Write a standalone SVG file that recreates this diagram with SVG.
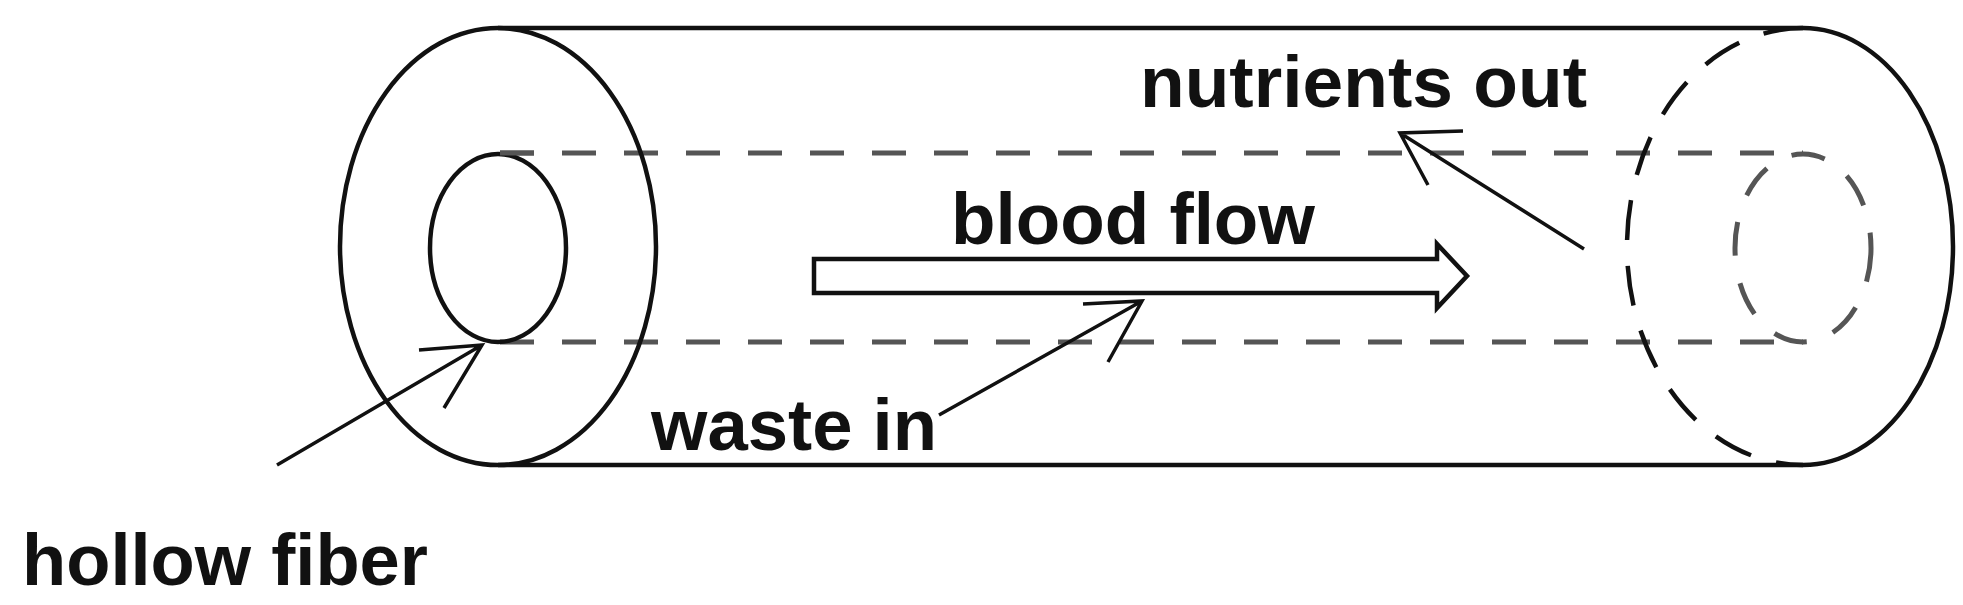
<svg xmlns="http://www.w3.org/2000/svg" width="1963" height="605" viewBox="0 0 1963 605">
<style>
.s{fill:none;stroke:#111;stroke-width:4.5}
.d{fill:none;stroke:#555;stroke-width:5;stroke-dasharray:34 28}
.k{fill:none;stroke:#111;stroke-width:4.5;stroke-dasharray:40 26}
.a{fill:none;stroke:#111;stroke-width:3.5}
text{font-family:"Liberation Sans",Arial,sans-serif;font-weight:bold;font-size:72px;fill:#111}
</style>
<rect width="1963" height="605" fill="#fff"/>
<g id="tube">
<line class="s" x1="498" y1="28" x2="1803" y2="28"/>
<line class="s" x1="498" y1="465" x2="1803" y2="465"/>
<line class="d" x1="500" y1="153" x2="1803" y2="153"/>
<line class="d" x1="500" y1="342" x2="1803" y2="342"/>
</g>
<g id="left-end">
<ellipse class="s" cx="498" cy="246.5" rx="158" ry="218.5" fill="#fff"/>
<ellipse class="s" cx="498" cy="248" rx="68" ry="94"/>
<line class="d" x1="500" y1="153" x2="560" y2="153"/>
</g>
<g id="right-end">
<path class="s" d="M1803 28 A150 218.5 0 0 1 1803 465"/>
<path class="k" d="M1803 28 A176 218.5 0 0 0 1803 465"/>
<ellipse class="d" cx="1803" cy="248" rx="68" ry="94"/>
</g>
<g id="blood-flow">
<path class="s" d="M814 259 H1437 V244 L1467 276 L1437 308 V293 H814 Z" fill="#fff"/>
<text x="951" y="244" textLength="364" lengthAdjust="spacingAndGlyphs">blood flow</text>
</g>
<g id="labels">
<text x="1140" y="107" textLength="447" lengthAdjust="spacingAndGlyphs">nutrients out</text>
<text x="651" y="450" textLength="286" lengthAdjust="spacingAndGlyphs">waste in</text>
<text x="22" y="585" textLength="406" lengthAdjust="spacingAndGlyphs">hollow fiber</text>
</g>
<g id="connectors">
<path class="a" d="M277 465 L482 345 M419 350 L482 345 L444 408"/>
<path class="a" d="M939 415 L1142 301 M1083 304 L1142 301 L1108 362"/>
<path class="a" d="M1584 249 L1400 133 M1463 131 L1400 133 L1428 185"/>
</g>
</svg>
